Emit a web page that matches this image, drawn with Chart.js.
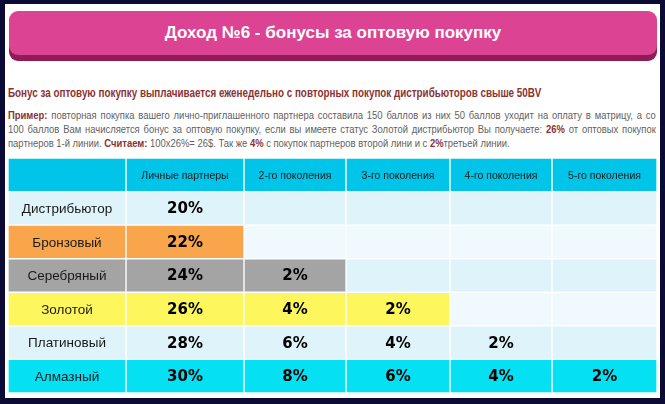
<!DOCTYPE html>
<html>
<head>
<meta charset="utf-8">
<script src="https://cdn.jsdelivr.net/npm/chart.js@4.4.1/dist/chart.umd.min.js"></script>
<style>
  html, body { margin: 0; padding: 0; }
  body {
    width: 665px; height: 404px; overflow: hidden; position: relative;
    background: #0b0b36;
    font-family: "Liberation Sans", Arial, sans-serif;
  }
  .panel { position: absolute; left: 5px; top: 4px; width: 655px; height: 394px; background: #fff; }
  .title {
    position: absolute; left: 9px; top: 11px; width: 648px; height: 44px;
    background: #dc4493; border-radius: 9px; box-shadow: 0 6px 0 #8e1d57;
    color: #fff; font-weight: bold; font-size: 17px; line-height: 44px; text-align: center;
  }
  /* no narrow font installed: squeeze Liberation Sans instead */
  .narrow { transform: scaleX(0.82); transform-origin: 0 0; white-space: nowrap; }
  .lead { position: absolute; left: 8px; top: 86px; font-weight: bold; font-size: 12px; color: #8c3232; }
  .para { position: absolute; left: 8px; top: 108px; width: 790px; font-size: 11.5px; line-height: 14px; color: #5f5f5f; }
  .para .j { text-align: justify; text-align-last: justify; }
  .para b { color: #8c3232; }
  .table { position: absolute; left: 8px; top: 158px; width: 649px; height: 235px; }
</style>
</head>
<body>
<div class="panel"></div>
<div class="title">Доход №6 - бонусы за оптовую покупку</div>
<div class="lead narrow">Бонус за оптовую покупку выплачивается еженедельно с повторных покупок дистрибьюторов свыше 50BV</div>
<div class="para narrow">
  <div class="j"><b>Пример:</b> повторная покупка вашего лично-приглашенного партнера составила 150 баллов из них 50 баллов уходит на оплату в матрицу, а со</div>
  <div class="j">100 баллов Вам начисляется бонус за оптовую покупку, если вы имеете статус Золотой дистрибьютор Вы получаете: <b>26%</b> от оптовых покупок</div>
  <div>партнеров 1-й линии. <b>Считаем:</b> 100x26%= 26$. Так же <b>4%</b> с покупок партнеров второй лини и с <b>2%</b>третьей линии.</div>
</div>
<div class="table"><canvas id="chart"></canvas></div>
<script>
// table content
const levels = ["Дистрибьютор", "Бронзовый", "Серебряный", "Золотой", "Платиновый", "Алмазный"];
const generations = ["Личные партнеры", "2-го поколения", "3-го поколения", "4-го поколения", "5-го поколения"];
const gen1 = [20, 22, 24, 26, 28, 30];
const gen2 = [null, null, 2, 4, 6, 8];
const gen3 = [null, null, null, 2, 4, 6];
const gen4 = [null, null, null, null, 2, 4];
const gen5 = [null, null, null, null, null, 2];
const bonus = [gen1, gen2, gen3, gen4, gen5];

// layout / styling
const colWidths = [118, 118, 102, 104, 102, 105];
const levelColors = ["#dff3fb", "#f8a54b", "#a5a4a4", "#fdf65d", "#dff3fb", "#06e0f3"];
const headerColor = "#00c5e8";
const stripe = ["#dff3fb", "#f0f9fd"];

const colEdges = [0];
colWidths.forEach(w => colEdges.push(colEdges[colEdges.length - 1] + w));
const rowLabels = ["", ...levels];

function cellText(col, row) {
    if (row === 0) return col === 0 ? "" : generations[col - 1];
    if (col === 0) return levels[row - 1];
    const v = bonus[col - 1][row - 1];
    return v == null ? "" : v + "%";
}

function cellColor(col, row) {
    if (row === 0) return headerColor;
    if (col === 0 || bonus[col - 1][row - 1] != null) return levelColors[row - 1];
    return stripe[(row - 1) % 2];
}

const datasets = colWidths.map((w, col) => ({
    data: rowLabels.map(() => [colEdges[col], colEdges[col + 1]]),
    backgroundColor: rowLabels.map((l, row) => cellColor(col, row)),
    borderColor: "#ffffff",
    borderWidth: 1,
    borderSkipped: false,
    grouped: false,
    barPercentage: 1,
    categoryPercentage: 1,
}));

const cellLabels = {
    id: "cellLabels",
    afterDatasetsDraw(chart) {
        const ctx = chart.ctx;
        ctx.save();
        ctx.textAlign = "center";
        ctx.textBaseline = "middle";
        chart.data.datasets.forEach((ds, col) => {
            chart.getDatasetMeta(col).data.forEach((el, row) => {
                const t = cellText(col, row);
                if (!t) return;
                const p = el.getCenterPoint();
                if (row === 0) {
                    ctx.font = '10.5px "Liberation Sans", Arial, sans-serif';
                    ctx.fillStyle = "#1a1a1a";
                } else if (col === 0) {
                    ctx.font = '13.5px "Liberation Sans", Arial, sans-serif';
                    ctx.fillStyle = "#1a1a1a";
                } else {
                    ctx.font = 'bold 15px "DejaVu Sans", Verdana, sans-serif';
                    ctx.fillStyle = "#000000";
                }
                ctx.fillText(t, p.x, p.y + 1);
            });
        });
        ctx.restore();
    },
};

new Chart(document.getElementById("chart"), {
    type: "bar",
    data: { labels: rowLabels, datasets: datasets },
    options: {
        indexAxis: "y",
        responsive: true,
        maintainAspectRatio: false,
        animation: false,
        events: [],
        layout: { padding: 0 },
        plugins: { legend: { display: false }, tooltip: { enabled: false } },
        scales: {
            x: { type: "linear", min: 0, max: colEdges[colEdges.length - 1], display: false },
            y: { display: false },
        },
    },
    plugins: [cellLabels],
});
</script>
</body>
</html>
